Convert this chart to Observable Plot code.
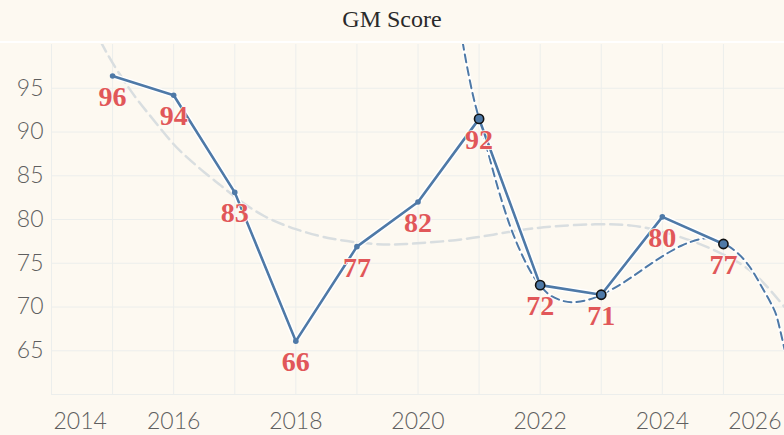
<!DOCTYPE html>
<html><head><meta charset="utf-8">
<script src="https://cdn.jsdelivr.net/npm/d3@7"></script>
<script src="https://cdn.jsdelivr.net/npm/@observablehq/plot@0.6"></script>
<style>
html,body{margin:0;padding:0;background:#fdf9f1;}
body{width:784px;height:435px;overflow:hidden;}
#title{height:41px;line-height:38px;text-align:center;font-family:"Liberation Serif","Times New Roman",serif;font-size:24px;color:#2a2a2a;border-bottom:2px solid #ffffff;}
#chart svg{display:block;background:#fdf9f1;}
</style></head><body>
<div id="title">GM Score</div>
<div id="chart"></div>
<script>
// Observed scores
const years  = [2015, 2016, 2017, 2018, 2019, 2020, 2021, 2022, 2023, 2024, 2025];
const scores = [96.4, 94.2, 83.1, 66.1, 76.9, 82.0, 91.5, 72.5, 71.4, 80.3, 77.2];
const labels = ["96", "94", "83", "66", "77", "82", "92", "72", "71", "80", "77"];
const highlightYears = [2021, 2022, 2023, 2025];

// Overall trend curve
const trendAllYears  = [2014.8, 2015.0, 2015.3, 2015.54, 2015.76, 2016.0, 2016.22, 2016.5, 2016.77, 2017.04, 2017.48, 2018.0, 2018.6, 2019.3, 2019.8, 2020.4, 2021.0, 2021.6, 2022.2, 2022.9, 2023.5, 2024.0, 2024.5, 2025.0, 2025.5, 2026.0];
const trendAllValues = [100.4, 97.9, 94.7, 92.5, 90.6, 88.6, 87.1, 85.4, 83.9, 82.4, 80.4, 78.9, 77.8, 77.2, 77.2, 77.5, 78.0, 78.7, 79.2, 79.45, 79.3, 78.6, 77.5, 76.0, 73.8, 70.0];

// Recent trend curve
const trendRecentYears  = [2020.73, 2020.8, 2020.9, 2021.0, 2021.1, 2021.2, 2021.3, 2021.4, 2021.5, 2021.6, 2021.7, 2021.8, 2021.9, 2022.0, 2022.15, 2022.37, 2022.55, 2022.77, 2023.0, 2023.33, 2023.66, 2023.98, 2024.31, 2024.64, 2024.85, 2025.0, 2025.21, 2025.43, 2025.62, 2025.81, 2025.9, 2026.0];
const trendRecentValues = [100.3, 97.6, 94.2, 91.5, 88.9, 86.3, 83.8, 81.5, 79.4, 77.6, 76.0, 74.6, 73.4, 72.5, 71.4, 70.7, 70.55, 70.8, 71.4, 72.65, 74.2, 75.7, 77.0, 77.8, 77.8, 77.3, 76.3, 74.6, 72.4, 70.0, 68.2, 65.2];

const gridYears = [2014, 2015, 2016, 2017, 2018, 2019, 2020, 2021, 2022, 2023, 2024, 2025, 2026];
const gridValues = [60, 65, 70, 75, 80, 85, 90, 95];
const xTicksMid = [2016, 2018, 2020, 2022, 2024];
const xTickFirst = [2014];
const xTickLast = [2026];
const yTicks = [65, 70, 75, 80, 85, 90, 95];

const rows = years.map((y, i) => ({year: y, score: scores[i], label: labels[i], hi: highlightYears.includes(y)}));
const trendAll = trendAllYears.map((y, i) => ({year: y, v: trendAllValues[i]}));
const trendRecent = trendRecentYears.map((y, i) => ({year: y, v: trendRecentValues[i]}));

const axisFont = "Lato, 'Open Sans', sans-serif";
const axisStyle = {tickSize: 0, fontSize: 23, fontFamily: axisFont, fontWeight: 300, fill: "#5f5f5f", label: null};
const blue = "#4e79a7";
const gridColor = "#eceeec";

const chart = Plot.plot({
  width: 784,
  height: 392,
  marginLeft: 51,
  marginRight: 0,
  marginTop: 1,
  marginBottom: 41,
  style: {background: "#fdf9f1", overflow: "visible"},
  x: {domain: [2014, 2026]},
  y: {domain: [60, 100]},
  marks: [
    Plot.ruleX(gridYears, {stroke: gridColor, strokeWidth: 1}),
    Plot.ruleY(gridValues, {stroke: gridColor, strokeWidth: 1}),
    Plot.axisY(yTicks, {...axisStyle, tickPadding: 8}),
    Plot.axisX(xTicksMid, {...axisStyle, tickPadding: 18, tickFormat: d => String(d)}),
    Plot.axisX(xTickFirst, {...axisStyle, tickPadding: 18, textAnchor: "start", dx: 2, tickFormat: d => String(d)}),
    Plot.axisX(xTickLast, {...axisStyle, tickPadding: 18, textAnchor: "end", dx: -3, tickFormat: d => String(d)}),
    Plot.line(trendAll, {x: "year", y: "v", stroke: "#d9dee0", strokeWidth: 2.5, strokeDasharray: "12,6", curve: "natural", clip: true}),
    Plot.line(trendRecent, {x: "year", y: "v", stroke: "#ffffff", strokeWidth: 4, curve: "natural", clip: true, strokeOpacity: 0.8}),
    Plot.line(trendRecent, {x: "year", y: "v", stroke: blue, strokeWidth: 2, strokeDasharray: "8,5", curve: "natural", clip: true}),
    Plot.line(rows, {x: "year", y: "score", stroke: "#ffffff", strokeWidth: 5.5}),
    Plot.line(rows, {x: "year", y: "score", stroke: blue, strokeWidth: 2.6}),
    Plot.dot(rows.filter(d => !d.hi), {x: "year", y: "score", r: 2.8, fill: blue}),
    Plot.dot(rows.filter(d => d.hi), {x: "year", y: "score", r: 4.6, fill: blue, stroke: "#111", strokeWidth: 1.6}),
    Plot.text(rows, {x: "year", y: "score", text: "label", dy: 21, fontSize: 28, fontWeight: "bold", fontFamily: "'Liberation Serif', 'Times New Roman', serif", fill: "#e15759", stroke: "#fdf9f1", strokeWidth: 1.5})
  ]
});
document.getElementById("chart").appendChild(chart);
</script>
</body></html>
